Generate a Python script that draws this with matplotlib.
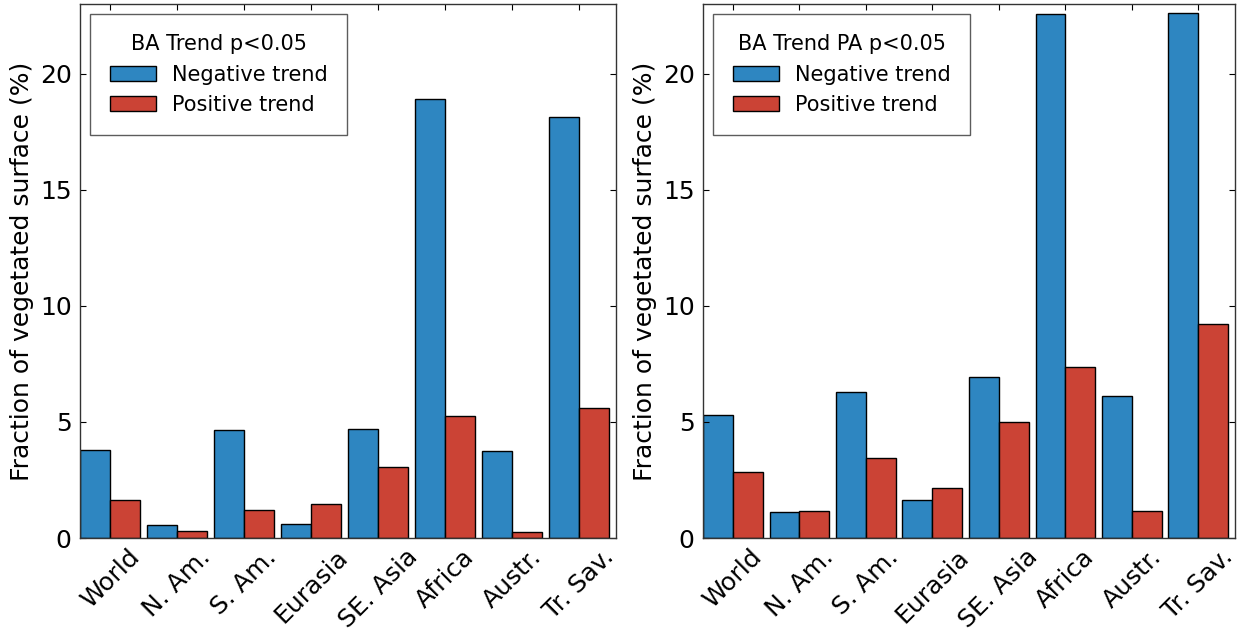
import matplotlib
matplotlib.use("Agg")
import matplotlib.pyplot as plt
import numpy as np

regions = ["World", "N. Am.", "S. Am.", "Eurasia", "SE. Asia", "Africa", "Austr.", "Tr. Sav."]
neg_ba = [3.80, 0.56, 4.65, 0.60, 4.69, 18.90, 3.74, 18.15]
pos_ba = [1.63, 0.29, 1.20, 1.46, 3.05, 5.25, 0.25, 5.59]
neg_pa = [5.29, 1.12, 6.28, 1.63, 6.92, 22.58, 6.10, 22.62]
pos_pa = [2.84, 1.18, 3.44, 2.15, 4.99, 7.35, 1.18, 9.20]
titles = ["BA Trend p<0.05", "BA Trend PA p<0.05"]
series_labels = ["Negative trend", "Positive trend"]

plt.rcParams.update({
    "font.family": "DejaVu Sans",
    "xtick.direction": "in",
    "ytick.direction": "in",
    "xtick.top": True,
    "ytick.right": True,
    "xtick.major.size": 4,
    "ytick.major.size": 4,
    "axes.edgecolor": "#333333",
    "axes.linewidth": 1.0,
})

BLUE = "#2e86c1"
RED = "#cb4335"
W = 1244
H = 634
fig = plt.figure(figsize=(W / 100, H / 100), dpi=100)
ax1 = fig.add_axes([80 / W, (H - 538) / H, 536 / W, 534 / H])
ax2 = fig.add_axes([703 / W, (H - 538) / H, 532 / W, 534 / H])

width = 0.45
x = np.arange(len(regions))
for ax, neg, pos, title in [(ax1, neg_ba, pos_ba, titles[0]), (ax2, neg_pa, pos_pa, titles[1])]:
    ax.bar(x, neg, width, align="edge", color=BLUE, edgecolor="black", linewidth=1.0, label=series_labels[0])
    ax.bar(x + width, pos, width, align="edge", color=RED, edgecolor="black", linewidth=1.0, label=series_labels[1])
    ax.set_xlim(0, len(regions))
    ax.set_ylim(0, 23)
    ax.set_yticks([0, 5, 10, 15, 20])
    ax.set_xticks(x + width)
    ax.set_xticklabels(regions, rotation=45, ha="center", fontsize=18)
    ax.tick_params(axis="y", labelsize=18, pad=6)
    ax.tick_params(axis="x", pad=5)
    ax.set_ylabel("Fraction of vegetated surface (%)", fontsize=18, labelpad=4)
    leg = ax.legend(loc="upper left", title=title, fontsize=15, title_fontsize=15,
                    fancybox=False, frameon=True, borderpad=0.95, labelspacing=0.5,
                    handlelength=2.2, handletextpad=0.75, borderaxespad=0.5)
    leg.get_frame().set_edgecolor("#333333")
    leg.get_frame().set_linewidth(1.0)

fig.savefig("out.png", dpi=100, facecolor="white")
